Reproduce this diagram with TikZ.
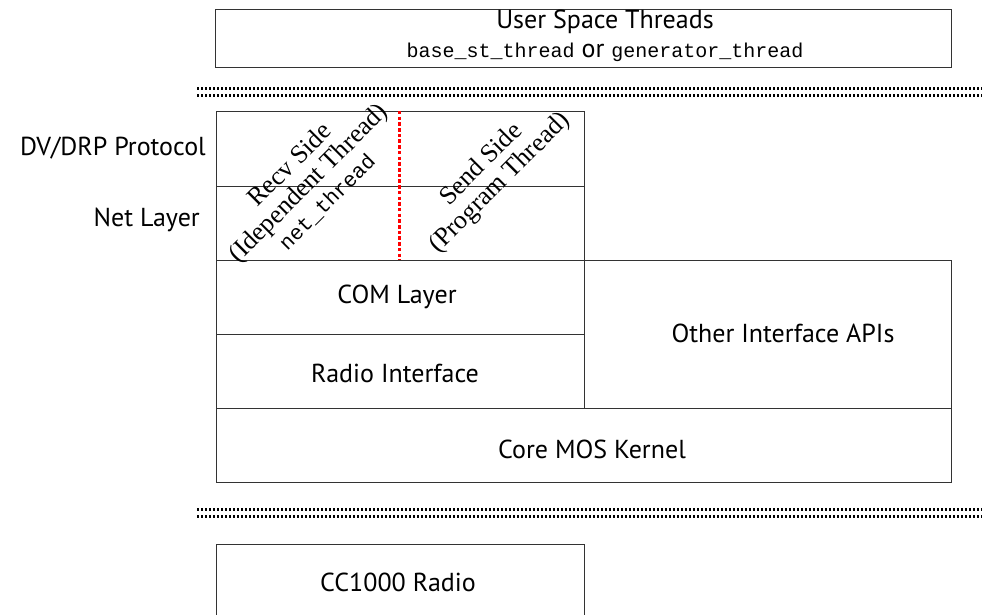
\documentclass[tikz,border=0pt]{standalone}
\usepackage{fontspec}
\setmainfont{Liberation Serif}
\setsansfont{PT Sans}
\setmonofont{Liberation Mono}
\begin{document}
\begin{tikzpicture}[x=1pt,y=-1pt,
  layer/.style={draw=black!80,line width=0.8pt,inner sep=0pt,font=\sffamily\fontsize{26}{30}\selectfont},
  caption/.style={inner sep=0pt,font=\sffamily\fontsize{26}{30}\selectfont},
  sidelabel/.style={anchor=east,inner sep=0pt,font=\sffamily\fontsize{26}{30}\selectfont},
  slanted/.style={rotate=45,align=center,inner sep=0pt,font=\rmfamily\fontsize{26}{26}\selectfont},
  boundary/.style={line width=3pt,dash pattern=on 2.4pt off 1.6pt},
  split/.style={red,line width=3pt,dash pattern=on 3.5pt off 2.2pt}]
\useasboundingbox (0,0) rectangle (982,615);

% user level
\node[layer,minimum width=736pt,minimum height=58pt] (user) at (583,38) {};
\node[caption,align=center] (userlbl) at (605,36)
  {User Space Threads\\[-1pt]{\ttfamily\fontsize{20}{20}\selectfont base\_st\_thread} or {\ttfamily\fontsize{20}{20}\selectfont generator\_thread}};

% kernel / user boundary
\coordinate (b1l) at (197,89); \coordinate (b1r) at (982,89);
\coordinate (b2l) at (197,96); \coordinate (b2r) at (982,96);
\draw[boundary] (b1l) -- (b1r);
\draw[boundary] (b2l) -- (b2r);

% network stack
\node[layer,minimum width=368pt,minimum height=75pt] (dv) at (400,148.5) {};
\node[layer,minimum width=368pt,minimum height=74pt] (net) at (400,223) {};
\node[layer,minimum width=368pt,minimum height=74pt] (com) at (400,297) {};
\node[layer,minimum width=368pt,minimum height=74pt] (radio) at (400,371) {};
\node[layer,minimum width=367pt,minimum height=148pt] (other) at (767.5,334) {};
\node[layer,minimum width=735pt,minimum height=74pt] (core) at (583.5,445) {};

\node[caption] (comlbl) at (397,297) {COM Layer};
\node[caption] (radiolbl) at (395,373) {Radio Interface};
\node[caption] (otherlbl) at (783,333) {Other Interface APIs};
\node[caption] (corelbl) at (592,449) {Core MOS Kernel};

\node[sidelabel] (dvlbl) at (206,148) {DV/DRP Protocol};
\node[sidelabel] (netlbl) at (200,220) {Net Layer};

% receive / send split
\coordinate (st) at (399,111); \coordinate (sb) at (399,260);
\draw[split] (st) -- (sb);
\node[slanted] (recv) at (308,183) {Recv Side\\(Idependent Thread)\\{\ttfamily\fontsize{21}{26}\selectfont net\_thread}};
\node[slanted] (send) at (491,174) {Send Side\\(Program Thread)};

% kernel / hardware boundary
\coordinate (b3l) at (197,509); \coordinate (b3r) at (982,509);
\coordinate (b4l) at (197,516); \coordinate (b4r) at (982,516);
\draw[boundary] (b3l) -- (b3r);
\draw[boundary] (b4l) -- (b4r);

% hardware
\node[layer,minimum width=368pt,minimum height=78pt] (cc) at (400,583) {};
\node[caption] (cclbl) at (398,582) {CC1000 Radio};
\end{tikzpicture}
\end{document}
